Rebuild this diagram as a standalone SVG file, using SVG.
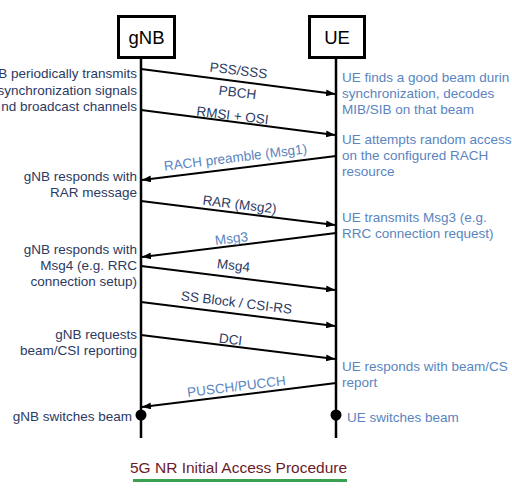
<svg xmlns="http://www.w3.org/2000/svg" width="512" height="490" viewBox="0 0 512 490">
<style>
.box{fill:#fff;stroke:#000;stroke-width:3}
.hdr{font-family:"Liberation Sans",Arial,sans-serif;font-size:18.5px;fill:#000;text-anchor:middle}
.life{stroke:#000;stroke-width:2.5}
.msg{stroke:#000;stroke-width:2;fill:none;marker-end:url(#ah)}
.lbl{font-family:"Liberation Sans",Arial,sans-serif;font-size:13.5px;text-anchor:middle}
.dk{fill:#2b3a63}
.bl{fill:#5a84c0}
.lt{font-family:"Liberation Sans",Arial,sans-serif;font-size:13.5px;fill:#2b3a63;text-anchor:end}
.rt{font-family:"Liberation Sans",Arial,sans-serif;font-size:13.5px;fill:#5a84c0}
</style>
<defs>
<marker id="ah" markerUnits="userSpaceOnUse" markerWidth="9" markerHeight="7" refX="9" refY="3.5" orient="auto">
<path d="M0,0 L9,3.5 L0,7 z" fill="#000"/>
</marker>
</defs>
<rect width="512" height="490" fill="#fff"/>
<g id="gNB">
<line class="life" x1="141" y1="58" x2="141" y2="438"/>
<rect class="box" x="118.5" y="16.5" width="56" height="41"/>
<text class="hdr" x="146.5" y="44">gNB</text>
<circle cx="141" cy="415" r="5.5" fill="#000"/>
</g>
<g id="UE">
<line class="life" x1="336" y1="57" x2="336" y2="438"/>
<rect class="box" x="309.5" y="16.5" width="55" height="41"/>
<text class="hdr" x="337" y="44">UE</text>
<circle cx="336" cy="415" r="5.5" fill="#000"/>
</g>
<g id="connectors">
<line class="msg" x1="141" y1="69" x2="335" y2="94"/>
<line class="msg" x1="141" y1="110" x2="335" y2="135"/>
<line class="msg" x1="336" y1="156" x2="142" y2="180"/>
<line class="msg" x1="141" y1="201" x2="335" y2="225"/>
<line class="msg" x1="336" y1="233" x2="142" y2="257"/>
<line class="msg" x1="141" y1="266" x2="335" y2="290"/>
<line class="msg" x1="141" y1="302" x2="335" y2="326"/>
<line class="msg" x1="141" y1="335" x2="335" y2="359"/>
<line class="msg" x1="336" y1="383" x2="142" y2="407"/>
</g>
<g id="msg-labels">
<text class="lbl dk" x="238" y="75" transform="rotate(7 238 75)">PSS/SSS</text>
<text class="lbl dk" x="237" y="97" transform="rotate(7 237 97)">PBCH</text>
<text class="lbl dk" x="232" y="120" transform="rotate(7 232 120)">RMSI + OSI</text>
<text class="lbl bl" x="236" y="162" transform="rotate(-7 236 162)">RACH preamble (Msg1)</text>
<text class="lbl dk" x="239" y="209" transform="rotate(7 239 209)">RAR (Msg2)</text>
<text class="lbl bl" x="232" y="243" transform="rotate(-7 232 243)">Msg3</text>
<text class="lbl dk" x="233" y="270" transform="rotate(7 233 270)">Msg4</text>
<text class="lbl dk" x="236" y="307" transform="rotate(7 236 307)">SS Block / CSI-RS</text>
<text class="lbl dk" x="230" y="344" transform="rotate(7 230 344)">DCI</text>
<text class="lbl bl" x="237" y="391" transform="rotate(-7 237 391)">PUSCH/PUCCH</text>
</g>
<g id="gnb-notes">
<text class="lt" x="137" y="78">B periodically transmits</text>
<text class="lt" x="137" y="94.5">synchronization signals</text>
<text class="lt" x="137" y="111">nd broadcast channels</text>
<text class="lt" x="137" y="181">gNB responds with</text>
<text class="lt" x="137" y="197">RAR message</text>
<text class="lt" x="137" y="254">gNB responds with</text>
<text class="lt" x="137" y="270">Msg4 (e.g. RRC</text>
<text class="lt" x="137" y="286">connection setup)</text>
<text class="lt" x="137" y="339">gNB requests</text>
<text class="lt" x="137" y="355">beam/CSI reporting</text>
<text class="lt" x="132" y="421">gNB switches beam</text>
</g>
<g id="ue-notes">
<text class="rt" x="342" y="82">UE finds a good beam durin</text>
<text class="rt" x="342" y="98">synchronization, decodes</text>
<text class="rt" x="342" y="114">MIB/SIB on that beam</text>
<text class="rt" x="342" y="144">UE attempts random access</text>
<text class="rt" x="342" y="160">on the configured RACH</text>
<text class="rt" x="342" y="176">resource</text>
<text class="rt" x="342" y="222">UE transmits Msg3 (e.g.</text>
<text class="rt" x="342" y="238">RRC connection request)</text>
<text class="rt" x="342" y="371">UE responds with beam/CS</text>
<text class="rt" x="342" y="387">report</text>
<text class="rt" x="347" y="422">UE switches beam</text>
</g>
<g id="title">
<text x="130" y="473" font-family="Liberation Sans, Arial, sans-serif" font-size="15.5" fill="#6b1b2b">5G NR Initial Access Procedure</text>
<line x1="133" y1="480.5" x2="347" y2="480.5" stroke="#3aa052" stroke-width="3"/>
</g>
</svg>
